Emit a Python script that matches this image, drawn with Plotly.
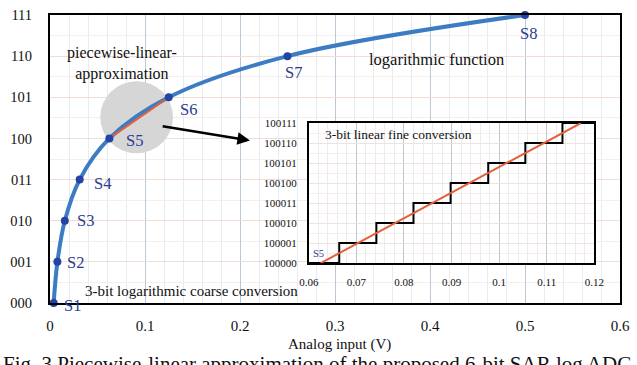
import plotly.graph_objects as go

# ---------------- data ----------------
code_labels = ["000", "001", "010", "011", "100", "101", "110", "111"]
code_levels = [0, 1, 2, 3, 4, 5, 6, 7]
seg_names = ["S1", "S2", "S3", "S4", "S5", "S6", "S7", "S8"]
seg_x = [0.0039, 0.0078, 0.0156, 0.03125, 0.0625, 0.125, 0.25, 0.5]

fine_labels = ["100000", "100001", "100010", "100011", "100100", "100101", "100110", "100111"]
fine_levels = [0, 1, 2, 3, 4, 5, 6, 7]
stair_x = [0.06, 0.0664, 0.0742, 0.0820, 0.0898, 0.0977, 0.1055, 0.1133, 0.12]
stair_y = [0, 1, 2, 3, 4, 5, 6, 7, 7]
fine_line_x = [0.0625, 0.1172]
fine_line_y = [0, 7]

main_xticks = [0, 0.1, 0.2, 0.3, 0.4, 0.5, 0.6]
main_xtick_text = ["0", "0.1", "0.2", "0.3", "0.4", "0.5", "0.6"]
inset_xticks = [0.06, 0.07, 0.08, 0.09, 0.1, 0.11, 0.12]
inset_xtick_text = ["0.06", "0.07", "0.08", "0.09", "0.1", "0.11", "0.12"]

# label offsets in px (dx, dy)
label_shift = [(19, -2), (18, -1), (21, 0), (23, -4), (25, -2), (20, -12), (6, -16), (3, -18)]

SERIF = "Liberation Serif"
BLUE = "#3b7cc2"
MARK = "#2344a4"
LBL = "#2b3d92"
RED = "#e2603c"

fig = go.Figure()

# main log curve
fig.add_trace(go.Scatter(x=seg_x, y=code_levels, mode="lines",
                         line=dict(color=BLUE, width=4, shape="spline", smoothing=1.0),
                         cliponaxis=False, hoverinfo="skip", showlegend=False))
# linear segment S5-S6
fig.add_trace(go.Scatter(x=[seg_x[4], seg_x[5]], y=[code_levels[4], code_levels[5]], mode="lines",
                         line=dict(color=RED, width=2), hoverinfo="skip", showlegend=False))
# markers
fig.add_trace(go.Scatter(x=seg_x, y=code_levels, mode="markers",
                         marker=dict(color=MARK, size=8), cliponaxis=False,
                         showlegend=False))

# inset traces
fig.add_trace(go.Scatter(x=stair_x, y=stair_y, mode="lines", xaxis="x2", yaxis="y2",
                         line=dict(color="black", width=2, shape="hv"),
                         showlegend=False))
fig.add_trace(go.Scatter(x=fine_line_x, y=fine_line_y, mode="lines", xaxis="x2", yaxis="y2",
                         line=dict(color=RED, width=2), cliponaxis=False,
                         showlegend=False))

annotations = []
for name, xv, yv, (dx, dy) in zip(seg_names, seg_x, code_levels, label_shift):
    annotations.append(dict(x=xv, y=yv, xref="x", yref="y", text=name, showarrow=False,
                            xshift=dx, yshift=dy,
                            font=dict(family=SERIF, size=16.5, color=LBL)))

annotations += [
    dict(x=0.0756, y=5.82, xref="x", yref="y", text="piecewise-linear-<br>approximation",
         showarrow=False, font=dict(family=SERIF, size=16, color="#111")),
    dict(x=0.407, y=5.92, xref="x", yref="y", text="logarithmic function",
         showarrow=False, font=dict(family=SERIF, size=16.5, color="#111")),
    dict(x=0.149, y=0.30, xref="x", yref="y", text="3-bit logarithmic coarse conversion",
         showarrow=False, font=dict(family=SERIF, size=15, color="#111")),
    # arrow
    dict(x=0.2104, y=3.95, ax=0.117, ay=4.30, xref="x", yref="y", axref="x", ayref="y",
         text="", showarrow=True, arrowhead=2, arrowsize=1, arrowwidth=2.5,
         arrowcolor="black", standoff=0, startstandoff=0),
    # inset texts
    dict(x=0.0629, y=6.42, xref="x2", yref="y2", text="3-bit linear fine conversion",
         xanchor="left", showarrow=False, font=dict(family=SERIF, size=13.5, color="#111")),
    dict(x=0.0620, y=0.49, xref="x2", yref="y2", text="S5", showarrow=False,
         font=dict(family=SERIF, size=10.5, color=LBL)),
    dict(x=0.1173, y=7.34, xref="x2", yref="y2", text="S6", showarrow=False,
         font=dict(family=SERIF, size=10.5, color=LBL)),
    # axis title
    dict(x=0.508, y=-0.143, xref="paper", yref="paper", text="Analog input (V)",
         xanchor="center", yanchor="middle",
         showarrow=False, font=dict(family=SERIF, size=15, color="#111")),
    # caption (cropped at the bottom in the reference)
    dict(x=-0.086, y=-0.212, xref="paper", yref="paper", xanchor="left", yanchor="middle",
         text="Fig. 3 Piecewise-linear approximation of the proposed 6-bit SAR log ADC",
         showarrow=False, font=dict(family=SERIF, size=21, color="#111")),
]

shapes = [
    # white panel behind the inset covering main gridlines
    dict(type="rect", xref="paper", yref="paper", x0=0.342, x1=1.0, y0=0.05, y1=0.686,
         fillcolor="white", line=dict(width=0), layer="between"),
    # grey highlight circle
    dict(type="circle", xref="x", yref="y", x0=0.0529, x1=0.1295, y0=3.64, y1=5.39,
         fillcolor="#d6d6d6", line=dict(width=0), layer="between"),
]

fig.update_layout(
    width=637, height=365,
    margin=dict(l=50, r=8, t=7, b=62),
    paper_bgcolor="white", plot_bgcolor="white",
    showlegend=False,
    annotations=annotations,
    shapes=shapes,
    xaxis=dict(range=[0, 0.6], tickvals=main_xticks, ticktext=main_xtick_text,
               showgrid=True, gridcolor="#bcc8d4", gridwidth=1,
               minor=dict(dtick=0.02, showgrid=True, gridcolor="#e8ecf1", gridwidth=1),
               showline=True, linecolor="black", linewidth=2, mirror=True,
               zeroline=False, ticks="", ticklabelstandoff=8,
               tickfont=dict(family=SERIF, size=15, color="#111")),
    yaxis=dict(range=[0, 7], tickvals=code_levels, ticktext=code_labels,
               showgrid=True, gridcolor="#f1ddd3", gridwidth=1,
               minor=dict(dtick=0.5, showgrid=True, gridcolor="#f6eeeb", gridwidth=1),
               showline=True, linecolor="black", linewidth=2, mirror=True,
               zeroline=False, ticks="", ticklabelstandoff=13,
               tickfont=dict(family=SERIF, size=14.5, color="#111")),
    xaxis2=dict(domain=[0.454, 0.955], anchor="y2", range=[0.06, 0.12],
                tickvals=inset_xticks, ticktext=inset_xtick_text,
                showgrid=True, gridcolor="#bcc8d4", gridwidth=1,
                minor=dict(dtick=0.002, showgrid=True, gridcolor="#e9edf1", gridwidth=1),
                showline=True, linecolor="black", linewidth=1.5, mirror=True,
                zeroline=False, ticks="", ticklabelstandoff=8,
                tickfont=dict(family=SERIF, size=11, color="#111")),
    yaxis2=dict(domain=[0.1385, 0.625], anchor="x2", range=[0, 7],
                tickvals=fine_levels, ticktext=fine_labels,
                showgrid=True, gridcolor="#f1e2db", gridwidth=1,
                minor=dict(dtick=0.5, showgrid=True, gridcolor="#f5eeeb", gridwidth=1),
                showline=True, linecolor="black", linewidth=1.5, mirror=True,
                zeroline=False, ticks="", ticklabelstandoff=8,
                tickfont=dict(family=SERIF, size=11, color="#111")),
)

fig.write_html("out.html")
